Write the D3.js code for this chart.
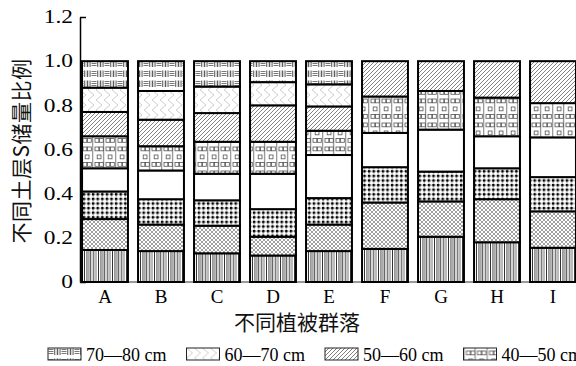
<!DOCTYPE html>
<html>
<head>
<meta charset="utf-8">
<script src="https://cdn.jsdelivr.net/npm/d3@7"></script>
<style>
  html, body { margin: 0; padding: 0; background: #fff; }
  svg { display: block; }
  .serif { font-family: "Liberation Serif", "DejaVu Serif", serif; }
  .cjk { font-family: "Noto Sans CJK SC", sans-serif; }
</style>
</head>
<body>
<svg id="chart" width="576" height="366"></svg>
<script>
// Plant communities along the x axis
const communities = ["A", "B", "C", "D", "E", "F", "G", "H", "I"];

// Soil layers, bottom to top
const layers = ["0—10 cm", "10—20 cm", "20—30 cm", "30—40 cm",
                "40—50 cm", "50—60 cm", "60—70 cm", "70—80 cm"];

// Share of S storage held by each layer, per community
const layer0_10  = [0.145, 0.140, 0.130, 0.120, 0.140, 0.150, 0.205, 0.180, 0.155];
const layer10_20 = [0.140, 0.120, 0.125, 0.085, 0.120, 0.210, 0.160, 0.195, 0.165];
const layer20_30 = [0.125, 0.115, 0.115, 0.125, 0.120, 0.160, 0.135, 0.140, 0.155];
const layer30_40 = [0.105, 0.130, 0.120, 0.160, 0.195, 0.155, 0.190, 0.145, 0.180];
const layer40_50 = [0.145, 0.110, 0.145, 0.145, 0.110, 0.165, 0.175, 0.175, 0.155];
const layer50_60 = [0.110, 0.120, 0.130, 0.165, 0.110, 0.160, 0.135, 0.165, 0.190];
const layer60_70 = [0.110, 0.130, 0.120, 0.105, 0.100, 0, 0, 0, 0];
const layer70_80 = [0.120, 0.135, 0.115, 0.095, 0.105, 0, 0, 0, 0];

const yTicks = [0, 0.2, 0.4, 0.6, 0.8, 1.0, 1.2];
const yTickLabels = ["0", "0.2", "0.4", "0.6", "0.8", "1.0", "1.2"];

const yTitle = "不同土层S储量比例";
const xTitle = "不同植被群落";

// Legend entries on the first row (top layers first)
const legendLayers = ["70—80 cm", "60—70 cm", "50—60 cm", "40—50 cm"];

const series = [layer0_10, layer10_20, layer20_30, layer30_40,
                layer40_50, layer50_60, layer60_70, layer70_80];
const rows = communities.map((c, i) => {
  const r = { community: c };
  layers.forEach((l, j) => { r[l] = series[j][i]; });
  return r;
});

const svg = d3.select("#chart");
const W = 576;

const x = d3.scaleBand().domain(communities).range([77, 581])
  .paddingInner(0.18).paddingOuter(0.09);
const y = d3.scaleLinear().domain([0, 1.2]).range([282, 17]);

// ---------- fill patterns, one per layer ----------
const defs = svg.append("defs");
function pattern(id, w, h) {
  const p = defs.append("pattern").attr("id", id)
    .attr("patternUnits", "userSpaceOnUse").attr("width", w).attr("height", h);
  p.append("rect").attr("width", w).attr("height", h).attr("fill", "#fff");
  return p;
}
function seg(p, x1, y1, x2, y2, c, sw) {
  p.append("line").attr("x1", x1).attr("y1", y1).attr("x2", x2).attr("y2", y2)
    .attr("stroke", c).attr("stroke-width", sw);
}

// 0-10 cm: irregular vertical stripes
{
  const p = pattern("pat0", 14, 10);
  const stripes = [[0.5, "#333"], [2.5, "#999"], [4, "#555"], [6.2, "#222"],
                   [8, "#aaa"], [9.8, "#444"], [12, "#777"]];
  stripes.forEach(([sx, c]) => seg(p, sx, 0, sx, 10, c, 1));
}
// 10-20 cm: fine cross-hatch
{
  const p = pattern("pat1", 4, 4);
  p.append("path").attr("d", "M0,0 L4,4 M4,0 L0,4 M-1,3 L1,5 M3,-1 L5,1 M-1,1 L1,-1 M3,5 L5,3")
    .attr("stroke", "#7a7a7a").attr("stroke-width", 0.7).attr("fill", "none");
}
// 20-30 cm: black squares on a thin grid
{
  const p = pattern("pat2", 4.6, 4.6);
  seg(p, 1.1, 0, 1.1, 4.6, "#555", 0.5);
  seg(p, 0, 1.1, 4.6, 1.1, "#555", 0.5);
  p.append("rect").attr("x", 0).attr("y", 0).attr("width", 2.3).attr("height", 2.3).attr("fill", "#000");
}
// 30-40 cm: plain white
pattern("pat3", 4, 4);
// 40-50 cm: columns with small open squares
{
  const p = pattern("pat4", 23, 24);
  [0.6, 11.6].forEach(vx => seg(p, vx, 0, vx, 24, "#9a9a9a", 1.4));
  const sq = [[3, 3], [7.5, 3], [14, 3], [18.5, 3],
              [5.2, 11], [16.2, 11],
              [3, 18.5], [7.5, 18.5], [14, 18.5], [18.5, 18.5]];
  sq.forEach(([sx, sy]) => p.append("rect")
    .attr("x", sx).attr("y", sy).attr("width", 3.8).attr("height", 3.8)
    .attr("fill", "none").attr("stroke", "#555").attr("stroke-width", 0.8));
}
// 50-60 cm: diagonal hatching
{
  const p = pattern("pat5", 4, 4);
  p.append("path").attr("d", "M-1,1 L1,-1 M0,4 L4,0 M3,5 L5,3")
    .attr("stroke", "#5a5a5a").attr("stroke-width", 0.75).attr("fill", "none");
}
// 60-70 cm: light chevrons
{
  const p = pattern("pat6", 8, 10);
  p.append("path").attr("d", "M0,0 L6,5 L0,10")
    .attr("stroke", "#c2c2c2").attr("stroke-width", 0.8).attr("fill", "none");
}
// 70-80 cm: rows of alternating horizontal and vertical stroke blocks
{
  const p = pattern("pat7", 13, 10);
  function hBlock(bx, by) {
    [1, 3, 5].forEach(dy => seg(p, bx, by + dy, bx + 5, by + dy, "#555", 0.8));
  }
  function vBlock(bx, by) {
    [[0.5, "#555"], [2, "#999"], [3.5, "#333"], [5, "#999"], [6.2, "#555"]]
      .forEach(([dx, c]) => seg(p, bx + dx, by, bx + dx, by + 6.5, c, 0.8));
  }
  hBlock(0.5, 0.5); vBlock(6, 0.5);
}

// ---------- axes and stacked bars ----------
const stack = d3.stack().keys(layers);
const stacked = stack(rows);

// y axis (ticks point inward and sit under the bars); labels are set wide
const labelStretch = 1.3;
const yAxis = d3.axisLeft(y).tickValues(yTicks)
  .tickFormat((d, i) => yTickLabels[i])
  .tickSize(-6).tickSizeOuter(0).tickPadding(7);
const gy = svg.append("g").attr("transform", "translate(80,0)").call(yAxis);
gy.select(".domain").attr("stroke", "#000").attr("stroke-width", 1.5);
gy.selectAll(".tick line").attr("stroke", "#000").attr("stroke-width", 1.5);
gy.selectAll(".tick text").attr("class", "serif").attr("font-size", 18)
  .attr("x", -7 / labelStretch)
  .attr("transform", `scale(${labelStretch},1)`)
  .attr("fill", "#000");

// baseline
svg.append("line").attr("x1", 80).attr("x2", W).attr("y1", y(0)).attr("y2", y(0))
  .attr("stroke", "#333").attr("stroke-width", 1.2);

stacked.forEach((s, li) => {
  svg.append("g").selectAll("rect")
    .data(s.filter(d => d[1] - d[0] > 0))
    .join("rect")
    .attr("x", d => x(d.data.community))
    .attr("width", x.bandwidth())
    .attr("y", d => y(d[1]))
    .attr("height", d => y(d[0]) - y(d[1]))
    .attr("fill", `url(#pat${li})`)
    .attr("stroke", "#000")
    .attr("stroke-width", 2);
});

// category labels
const xAxis = d3.axisBottom(x).tickSize(0).tickPadding(8);
const gx = svg.append("g").attr("transform", `translate(0,${y(0)})`).call(xAxis);
gx.select(".domain").remove();
gx.selectAll(".tick text").attr("class", "serif").attr("font-size", 19).attr("fill", "#000");

// axis titles
svg.append("text").attr("class", "cjk")
  .attr("x", 297).attr("y", 330).attr("text-anchor", "middle")
  .attr("font-size", 21).attr("fill", "#111").text(xTitle);

svg.append("text").attr("class", "cjk")
  .attr("transform", "translate(29,151) rotate(-90)")
  .attr("text-anchor", "middle").attr("letter-spacing", 0.5)
  .attr("font-size", 21).attr("fill", "#111").text(yTitle);

// legend
const legend = svg.append("g").attr("transform", "translate(48,348)");
legendLayers.forEach((name, i) => {
  const li = layers.indexOf(name);
  const g = legend.append("g").attr("transform", `translate(${i * 138.5},0)`);
  g.append("rect").attr("width", 33).attr("height", 12)
    .attr("fill", `url(#pat${li})`).attr("stroke", "#222").attr("stroke-width", 1);
  g.append("text").attr("class", "serif").attr("x", 38).attr("y", 12.5)
    .attr("font-size", 18).attr("fill", "#000").text(name);
});
</script>
</body>
</html>
